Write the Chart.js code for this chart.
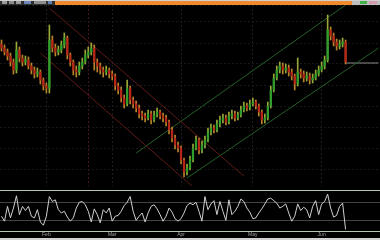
<!DOCTYPE html>
<html>
<head>
<meta charset="utf-8">
<script src="https://cdn.jsdelivr.net/npm/chart.js@4.4.0/dist/chart.umd.min.js"></script>
<style>
  body { margin: 0; background: #000; width: 380px; height: 240px; overflow: hidden; position: relative; font-family: "DejaVu Sans", sans-serif; }
  #bar { position: absolute; left: 0; top: 0; width: 380px; height: 5px; background: #2e2e2e; }
  #bar .hl { position: absolute; left: 0; top: 0; width: 380px; height: 1px; background: #cfcfcf; }
  #bar .orange { position: absolute; left: 55px; top: 1px; width: 297px; height: 4px; background: #f08a2c; }
  #bar .ic { position: absolute; top: 1px; height: 3px; }
  #main { position: absolute; left: 0; top: 5px; }
  #osc { position: absolute; left: 0; top: 188px; }
  #status { position: absolute; left: 0; top: 238px; width: 380px; height: 2px; background: #d2d2d2; }
</style>
</head>
<body>
<div id="bar">
  <div class="hl"></div>
  <div class="ic" style="left:2px;width:5px;background:#9a9a9a"></div>
  <div class="ic" style="left:9px;width:5px;background:#8a8a8a"></div>
  <div class="ic" style="left:16px;width:5px;background:#9a9a9a"></div>
  <div class="ic" style="left:24px;width:7px;background:#6f86b8"></div>
  <div class="ic" style="left:34px;width:12px;background:#8c8c8c"></div>
  <div class="ic" style="left:48px;width:4px;background:#5f7fb0"></div>
  <div class="orange"></div>
  <div class="ic" style="left:352px;width:28px;top:1px;height:4px;background:#bdbdbd"></div>
  <div class="ic" style="left:360px;width:7px;background:#3fb34a"></div>
  <div class="ic" style="left:369px;width:8px;background:#d49aac"></div>
</div>
<canvas id="main" width="380" height="181"></canvas>
<canvas id="osc" width="380" height="50"></canvas>
<div id="status"></div>
<script>
// price candles (close / high / low), open = previous close
const firstOpen = 146;
const closes = [142,138,134,128,120,140,132,128,130,124, 120,116,118,110,104,102,150,142,138,140,
  145,152,135,128,120,118,124,128,135,138, 142,128,124,120,118,120,116,114,104,100,
  92,86,102,90,86,82,76,74,72,76, 70,75,78,74,72,68,60,52,45,42,
  30,18,22,30,42,50,40,45,50,58, 62,60,66,70,72,68,74,76,72,75,
  80,84,82,86,88,84,78,70,72,84, 100,112,120,124,120,122,118,114,106,118,
  116,112,114,110,112,116,120,124,130,160, 154,148,144,146,148,128];
const highs = [150,145,141,137,131,148,143,135,134,133, 127,123,122,120,112,107,165,154,146,144,
  149,157,154,137,130,124,128,132,140,143, 147,145,131,127,123,124,122,119,116,107,
  103,95,110,104,93,89,85,79,77,80, 79,79,82,80,77,75,70,63,55,48,
  44,32,26,34,46,54,52,49,54,62, 66,65,70,74,76,75,78,80,79,78,
  84,88,87,90,92,90,86,80,76,88, 104,116,124,128,127,126,125,121,116,132,
  121,119,118,117,116,120,124,128,134,175, 163,157,151,150,152,150];
const lows = [139,135,130,124,116,117,128,124,125,121, 116,112,113,106,100,97,97,138,134,135,
  137,142,131,124,115,113,115,121,126,132, 135,120,118,116,113,115,112,110,100,96,
  88,82,84,86,82,78,72,70,68,70, 66,68,73,71,68,64,56,48,41,38,
  26,13,15,20,28,40,36,37,42,48, 55,57,58,63,67,65,66,71,69,70,
  73,78,79,80,84,81,74,66,67,70, 82,98,110,117,116,117,114,110,100,104,
  112,108,109,106,107,110,114,118,121,128, 150,144,140,141,143,126];

// oscillator (0-100)
const osc = [36,24,60,32,56,86,40,60,50,60, 36,32,52,22,14,36,84,72,76,52,
  44,48,34,24,32,56,70,72,64,48, 22,54,40,20,52,44,56,24,36,38,
  48,62,70,84,48,26,36,44,22,44, 60,64,54,40,24,36,56,46,30,24,
  30,44,62,68,64,70,48,24,84,52, 66,74,40,72,48,26,76,40,48,60,
  78,72,56,46,30,32,44,54,66,78, 80,74,68,56,60,66,44,24,36,66,
  50,58,52,32,60,74,40,66,72,90, 56,34,38,60,68,4];
const oscLevels = [0, 25, 70, 100];

// trend channels: [candle index, price]
const redUpper = [[16, 182], [81, 14]];
const redLower = [[13, 137], [64, 3]];
const greenUpper = [[45, 37], [115, 185]];
const greenLower = [[62, 12], [126, 142]];
const priceLine = [[115, 127], [126, 127]];
const markerIdx = 29;

// date ticks
const tickIdx = [15, 37, 60, 84, 107];
const tickText = ['Feb', 'Mar', 'Apr', 'May', 'Jun'];
const emptySlots = 11;

const total = closes.length + emptySlots;
const labels = [];
for (let i = 0; i < total; i++) labels.push(String(i));

const opens = closes.map((c, i) => i === 0 ? firstOpen : closes[i - 1]);
const bodies = closes.map((c, i) => [opens[i], c]);
const wicks = closes.map((c, i) => [lows[i], highs[i]]);
const isUp = closes.map((c, i) => c > opens[i]);

function seg(points) {
  const arr = new Array(total).fill(null);
  points.forEach(([i, v]) => { arr[i] = v; });
  return arr;
}

function lineSet(points, color) {
  return {
    type: 'line', data: seg(points), borderColor: color, borderWidth: 1,
    pointRadius: 0, spanGaps: true, tension: 0
  };
}

new Chart(document.getElementById('main'), {
  type: 'bar',
  data: {
    labels: labels,
    datasets: [
      { data: bodies, grouped: false, barThickness: 1.6, borderWidth: 0,
        backgroundColor: isUp.map(u => u ? '#2f9e2c' : '#b8261a') },
      { data: wicks, grouped: false, barThickness: 1, borderWidth: 0,
        backgroundColor: isUp.map(u => u ? '#9aa838' : '#b8862a') },
      lineSet(redUpper, '#5e1a18'),
      lineSet(redLower, '#5e1a18'),
      lineSet(greenUpper, '#245e26'),
      lineSet(greenLower, '#245e26'),
      lineSet(priceLine, '#8a8a8a')
    ]
  },
  options: {
    animation: false,
    responsive: false,
    layout: { padding: 0 },
    plugins: { legend: { display: false }, tooltip: { enabled: false } },
    scales: {
      x: {
        offset: true,
        ticks: { display: false, autoSkip: false },
        grid: {
          offset: false, drawTicks: false, tickLength: 0,
          color: ctx => ctx.index === markerIdx ? '#43122a' : (tickIdx.includes(ctx.index) ? '#1c1c1c' : 'rgba(0,0,0,0)')
        },
        border: { display: false, dash: [2, 2] }
      },
      y: {
        position: 'right', min: 4, max: 185,
        ticks: { display: false, stepSize: 21 },
        grid: { color: '#181818', drawTicks: false, tickLength: 0 },
        border: { display: false, dash: [2, 2] }
      }
    }
  }
});

new Chart(document.getElementById('osc'), {
  type: 'line',
  data: {
    labels: labels,
    datasets: [{
      data: osc, borderColor: '#cfcfcf', borderWidth: 1, pointRadius: 0, tension: 0
    }]
  },
  options: {
    animation: false,
    responsive: false,
    layout: { padding: { top: 2, left: 0, right: 0, bottom: 0 } },
    plugins: { legend: { display: false }, tooltip: { enabled: false } },
    scales: {
      x: {
        offset: true,
        grid: { display: false, drawTicks: false, tickLength: 0 },
        border: { display: false },
        ticks: {
          autoSkip: false, maxRotation: 0, padding: 1, color: '#a0a0a0',
          font: { size: 5, lineHeight: 1 },
          callback: (v, i) => {
            const k = tickIdx.indexOf(i);
            return k >= 0 ? tickText[k] : '';
          }
        }
      },
      y: {
        min: 0, max: 100,
        afterBuildTicks: s => { s.ticks = oscLevels.map(v => ({ value: v })); },
        ticks: { display: false },
        grid: {
          drawTicks: false, tickLength: 0,
          color: ctx => (ctx.tick.value === 0 || ctx.tick.value === 100) ? '#b8c6b8' : '#444444'
        },
        border: { display: false }
      }
    }
  }
});
</script>
</body>
</html>
